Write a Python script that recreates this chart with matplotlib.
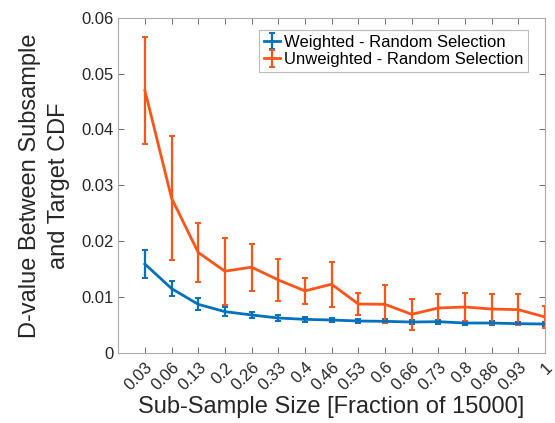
import numpy as np
import matplotlib.pyplot as plt

plt.rcParams['font.family'] = ['Liberation Sans', 'DejaVu Sans']

# sub-sample fractions (tick labels)
fractions = ['0.03', '0.06', '0.13', '0.2', '0.26', '0.33', '0.4', '0.46',
             '0.53', '0.6', '0.66', '0.73', '0.8', '0.86', '0.93', '1']

# weighted - random selection
w_mean = [0.0159, 0.0115, 0.00868, 0.00737, 0.00677, 0.00623, 0.00599, 0.00587,
          0.00569, 0.00563, 0.00551, 0.00557, 0.00533, 0.00533, 0.00521, 0.00515]
w_err = [0.0025, 0.0014, 0.0011, 0.00087, 0.00054, 0.00054, 0.00040, 0.00040,
         0.00035, 0.00035, 0.00033, 0.00033, 0.00030, 0.00030, 0.00030, 0.00030]

# unweighted - random selection
u_mean = [0.0470, 0.0277, 0.01796, 0.01461, 0.01533, 0.01305, 0.01108, 0.01228,
          0.00874, 0.00868, 0.00689, 0.00802, 0.0082, 0.00784, 0.00772, 0.00641]
u_err = [0.0096, 0.0111, 0.0052, 0.0060, 0.0042, 0.0038, 0.0023, 0.0040,
         0.0019, 0.0034, 0.0028, 0.0025, 0.0025, 0.0026, 0.0028, 0.0019]

blue = '#0072BD'
orange = '#FF5419'

fig = plt.figure(figsize=(5.55, 4.23), dpi=100)
ax = fig.add_axes([0.213, 0.166, 0.769, 0.792])

x = np.arange(1, len(fractions) + 1)
ax.errorbar(x, w_mean, yerr=w_err, color=blue, lw=2, elinewidth=1.6,
            capsize=2, capthick=1.4, label='Weighted - Random Selection')
ax.errorbar(x, u_mean, yerr=u_err, color=orange, lw=2, elinewidth=1.6,
            capsize=2, capthick=1.4, label='Unweighted - Random Selection')

ax.set_xlim(0, 16)
ax.set_ylim(0, 0.06)
ax.set_xticks(x)
ax.set_xticklabels(fractions, rotation=45, ha='right', rotation_mode='anchor')
ax.set_yticks([0, 0.01, 0.02, 0.03, 0.04, 0.05, 0.06])
ax.set_yticklabels(['0', '0.01', '0.02', '0.03', '0.04', '0.05', '0.06'])

ax.tick_params(direction='in', length=4, width=0.6, color='#555555',
               labelsize=12, top=True, right=True, labelcolor='#262626')
ax.tick_params(axis='x', pad=5)
for s in ax.spines.values():
    s.set_color('#aaaaaa')
    s.set_linewidth(0.8)

ax.set_xlabel('Sub-Sample Size [Fraction of 15000]', fontsize=17,
              color='#262626', labelpad=2)
ax.set_ylabel('D-value Between Subsample\nand Target CDF', fontsize=17,
              color='#262626', labelpad=8, linespacing=1.4)

leg = ax.legend(loc='upper right', bbox_to_anchor=(0.96, 0.964), fontsize=12,
                frameon=True, fancybox=False, handlelength=1.0, handletextpad=0.2,
                borderpad=0.3, labelspacing=0.15, borderaxespad=0)
leg.get_frame().set_edgecolor('#aaaaaa')
leg.get_frame().set_linewidth(0.8)

fig.savefig('out.png', dpi=100)
